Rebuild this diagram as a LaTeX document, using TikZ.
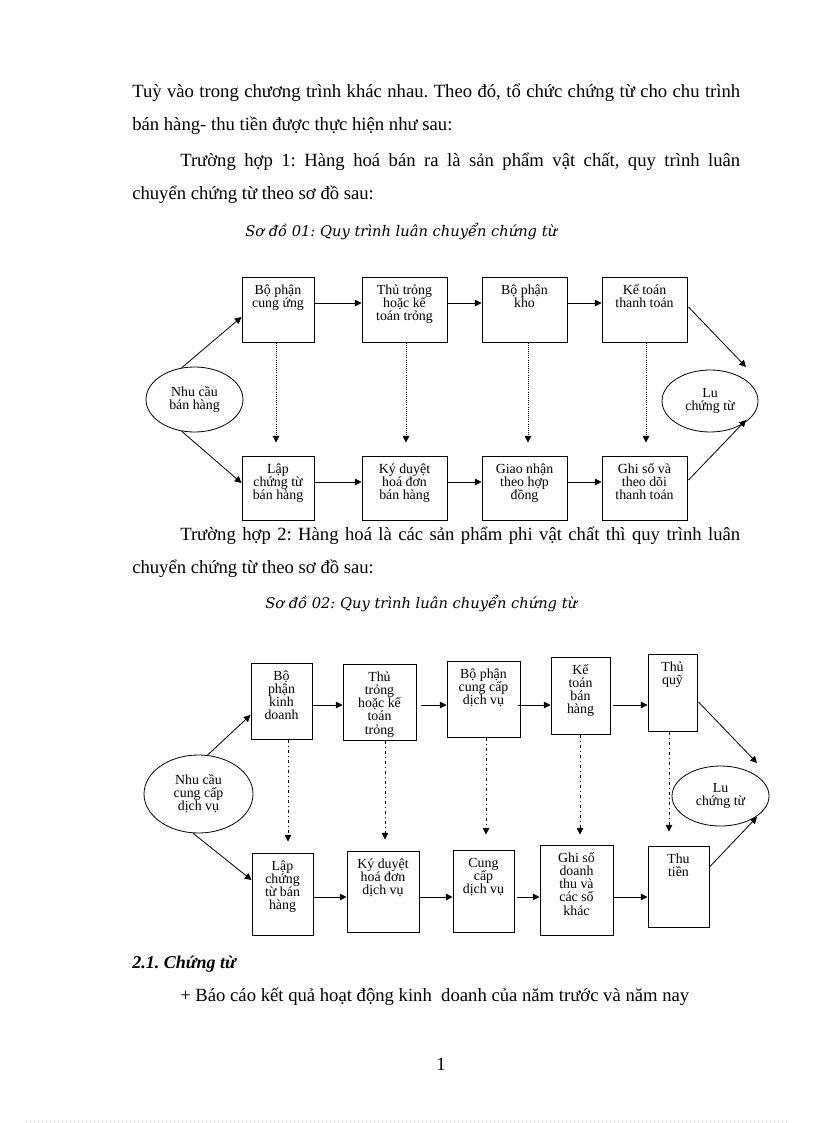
\documentclass[tikz,border=0pt]{standalone}
\usepackage{fontspec}
\setmainfont{Liberation Serif}
\newfontfamily\capfont{DejaVu Serif}
\usetikzlibrary{arrows.meta,shapes.geometric,calc}
\frenchspacing
\newcommand\pbox[6]{\node[box,minimum width={(#4-#2)*0.75pt},minimum height={(#5-#3)*0.75pt},
  label={[anchor=north,inner sep=0pt,yshift=-2.6pt,align=center,font=\boxfont]north:\rule{0pt}{10.9pt}#6}] (#1) at ({(#2+#4)/2},{(#3+#5)/2}) {};}
\newcommand\boxfont{\fontsize{10.4}{9.8}\selectfont\lineskiplimit=-20pt\relax}
\begin{document}
\begin{tikzpicture}[x=0.75pt,y=-0.75pt,
  txt/.style={anchor=base west,inner sep=0pt,font=\fontsize{14}{16}\selectfont},
  captxt/.style={anchor=base west,inner sep=0pt,font=\capfont\itshape\fontsize{11}{12}\selectfont},
  box/.style={draw,line width=0.75pt,inner sep=0pt},
  oval/.style={draw,ellipse,line width=0.6pt,inner sep=0pt,align=center,font=\boxfont},
  arr/.style={-{Triangle[length=5pt,width=5pt]},line width=0.6pt},
  dotarr/.style={arr,densely dotted},
  ddarr/.style={arr,dash pattern=on 2.25pt off 2.25pt on 0.75pt off 2.25pt},
]
\fill[white] (0,0) rectangle (816,1123);
\useasboundingbox (0,0) rectangle (816,1123);

% ---- text ----
\node[txt] (t1) at (132,98) {\makebox[456pt][s]{Tuỳ vào trong chương trình khác nhau. Theo đó, tổ chức chứng từ cho chu trình}};
\node[txt] (t2) at (132,131) {bán hàng- thu tiền được thực hiện như sau:};
\node[txt] (t3) at (180,167) {\makebox[420pt][s]{Trường hợp 1: Hàng hoá bán ra là sản phẩm vật chất, quy trình luân}};
\node[txt] (t4) at (132,200) {chuyển chứng từ theo sơ đồ sau:};
\node[captxt] (cap1) at (245,237) {Sơ đồ 01: Quy trình luân chuyển chứng từ};
\node[txt] (t5) at (180,540) {\makebox[420pt][s]{Trường hợp 2: Hàng hoá là các sản phẩm phi vật chất thì quy trình luân}};
\node[txt] (t6) at (132,573) {chuyển chứng từ theo sơ đồ sau:};
\node[captxt] (cap2) at (265,608) {Sơ đồ 02: Quy trình luân chuyển chứng từ};
\node[txt,font=\bfseries\itshape\fontsize{13.5}{16}\selectfont] (sec) at (132,968) {2.1. Chứng từ};
\node[txt] (bul) at (180,1001) {+ Báo cáo kết quả hoạt động kinh\ \ doanh của năm trước và năm nay};
\node[txt,anchor=base] (pn) at (441,1070) {1};
\draw[gray!50,line width=0.75pt,dash pattern=on 0.75pt off 2.25pt] (26,1121) -- (790,1121);

% ---- diagram 1 ----
\pbox{a1}{242}{277}{314}{342}{Bộ phận\\cung ứng}
\pbox{a2}{362}{277}{447}{342}{Thủ trỏng\\hoặc kế\\toán trỏng}
\pbox{a3}{482}{277}{567}{342}{Bộ phận\\kho}
\pbox{a4}{602}{277}{687}{342}{Kế toán\\thanh toán}
\pbox{b1}{242}{456}{314}{520}{Lập\\chứng từ\\bán hàng}
\pbox{b2}{362}{456}{447}{520}{Ký duyệt\\hoá đơn\\bán hàng}
\pbox{b3}{482}{456}{567}{520}{Giao nhận\\theo hợp\\đồng}
\pbox{b4}{602}{456}{687}{520}{Ghi sổ và\\theo dõi\\thanh toán}
\node[oval,minimum width=97*0.75pt,minimum height=65*0.75pt] (e1) at (194.5,399.5) {Nhu cầu\\bán hàng};
\node[oval,minimum width=96*0.75pt,minimum height=62*0.75pt] (e2) at (710,401) {Lu\\chứng từ};

\foreach \p/\q in {a1/a2,a2/a3,a3/a4}{\draw[arr] (\p.east |- 0,303) -- (\q.west |- 0,303);}
\foreach \p/\q in {b1/b2,b2/b3,b3/b4}{\draw[arr] (\p.east |- 0,482) -- (\q.west |- 0,482);}
\foreach \p/\q/\dx in {a1/b1/-2,a2/b2/1.5,a3/b3/3.5,a4/b4/1.5}{
  \draw[dotarr] ($(\p.south)+(\dx,0)$) -- ($(\q.north)+(\dx,-13)$);}
\draw[arr] (e1.112) -- ($(a1.west)+(0,7.5)$);
\draw[arr] (e1.248) -- ($(b1.west)+(0,-5)$);
\draw[arr] ($(a4.east)+(1,-2.5)$) -- ($(e2.center)+(36,-34)$);
\draw[arr] ($(b4.east)+(1,-8)$) -- ($(e2.center)+(36,19)$);

% ---- diagram 2 ----
\pbox{c1}{251}{663}{312}{739}{Bộ\\phận\\kinh\\doanh}
\pbox{c2}{343}{664}{416}{740}{Thủ\\trỏng\\hoặc kế\\toán\\trỏng}
\pbox{c3}{447}{661}{520}{737}{Bộ phận\\cung cấp\\dịch vụ}
\pbox{c4}{551}{657}{610}{734}{Kế\\toán\\bán\\hàng}
\pbox{c5}{648}{654}{697}{731}{Thủ\\quỹ}
\pbox{d1}{252}{853}{313}{935}{Lập\\chứng\\từ bán\\hàng}
\pbox{d2}{347}{851}{419}{932}{Ký duyệt\\hoá đơn\\dịch vụ}
\pbox{d3}{453}{850}{514}{932}{Cung\\cấp\\dịch vụ}
\pbox{d4}{540}{845}{613}{935}{Ghi sổ\\doanh\\thu và\\các sổ\\khác}
\pbox{d5}{648}{846}{709}{927}{Thu\\tiền}
\node[oval,minimum width=109*0.75pt,minimum height=78*0.75pt] (f1) at (198.5,794) {Nhu cầu\\cung cấp\\dịch vụ};
\node[oval,minimum width=97*0.75pt,minimum height=60*0.75pt] (f2) at (720.5,796) {Lu\\chứng từ};

\draw[arr] (c1.east |- 0,705) -- (c2.west |- 0,705);
\draw[arr] ($(c2.east |- 0,705)+(4,0)$) -- (c3.west |- 0,705);
\draw[arr] ($(c3.east |- 0,705)+(-3,0)$) -- (c4.west |- 0,705);
\draw[arr] ($(c4.east |- 0,705)+(2,0)$) -- (c5.west |- 0,705);
\draw[arr] (d1.east |- 0,897) -- (d2.west |- 0,897);
\draw[arr] (d2.east |- 0,897) -- (d3.west |- 0,897);
\draw[arr] ($(d3.east |- 0,897)+(2,0)$) -- (d4.west |- 0,897);
\draw[arr] (d4.east |- 0,897) -- (d5.west |- 0,897);
\foreach \p/\q/\dx/\dy in {c1/d1/6.5/-11,c2/d2/5.5/-11,c3/d3/2.5/-15,c4/d4/-0.5/-10,c5/d5/-3.5/-14}{
  \draw[ddarr] ($(\p.south)+(\dx,0)$) -- ($(\p.south |- \q.north)+(\dx,\dy)$);}
\draw[arr] (f1.77) -- ($(c1.west)+(0,14)$);
\draw[arr] (f1.262) -- ($(d1.west)+(0,-14)$);
\draw[arr] ($(c5.east)+(1,9.5)$) -- ($(f2.center)+(36.5,-33)$);
\draw[arr] ($(d5.east)+(0,-19.5)$) -- ($(f2.center)+(36.5,21)$);
\end{tikzpicture}
\end{document}
